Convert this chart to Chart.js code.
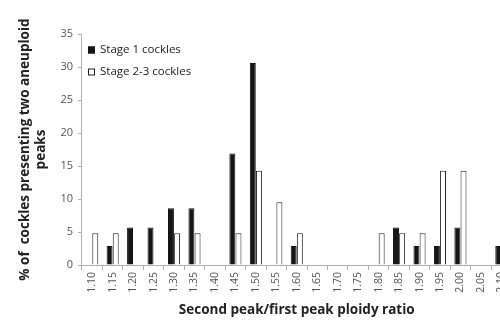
<!DOCTYPE html>
<html>
<head>
<meta charset="utf-8">
<script src="https://cdn.jsdelivr.net/npm/chart.js@4"></script>
<style>
  html, body { margin: 0; padding: 0; background: #fff; overflow: hidden; }
  #wrap { width: 516px; height: 323px; }
</style>
</head>
<body>
<div id="wrap"><canvas id="ratioChart" width="516" height="323"></canvas></div>
<script>
// ploidy ratio categories
const ratios = ["1.10", "1.15", "1.20", "1.25", "1.30", "1.35", "1.40", "1.45", "1.50", "1.55",
  "1.60", "1.65", "1.70", "1.75", "1.80", "1.85", "1.90", "1.95", "2.00", "2.05", "2.10"];

// % of cockles
const stage1 = [null, 2.9, 5.7, 5.7, 8.6, 8.6, null, 16.9, 30.6, null,
  2.9, null, null, null, null, 5.7, 2.9, 2.9, 5.7, null, 2.9];
const stage23 = [4.8, 4.8, null, null, 4.8, 4.8, null, 4.8, 14.3, 9.5,
  4.8, null, null, null, 4.8, 4.8, 4.8, 14.3, 14.3, null, null];

const yTicks = [0, 5, 10, 15, 20, 25, 30, 35];

const FONT = "'Open Sans', 'Liberation Sans', sans-serif";
const axisGrey = "#b0b0b0";

// legend drawn inside the plot, top left, one entry per row
const insideLegend = {
  id: "insideLegend",
  afterDraw: function (chart) {
    const c = chart.ctx;
    const area = chart.chartArea;
    c.save();
    c.font = "11.5px " + FONT;
    c.textBaseline = "middle";
    chart.data.datasets.forEach(function (ds, i) {
      const y = area.top + 16 + i * 22;
      const x = area.left + 6;
      c.fillStyle = ds.backgroundColor;
      c.strokeStyle = ds.borderColor;
      c.lineWidth = 1;
      c.fillRect(x, y - 3.5, 7, 7);
      c.strokeRect(x + 0.5, y - 3, 6, 6);
      c.fillStyle = "#222";
      c.fillText(ds.label, x + 12, y);
    });
    c.restore();
  }
};

window.onload = function () {
  var ctx = document.getElementById("ratioChart").getContext("2d");
  new Chart(ctx, {
    type: "bar",
    data: {
      labels: ratios,
      datasets: [
        {
          label: "Stage 1 cockles",
          data: stage1,
          backgroundColor: "#151515",
          borderColor: "#151515",
          borderWidth: 1,
          categoryPercentage: 0.6,
          barPercentage: 0.97
        },
        {
          label: "Stage 2-3 cockles",
          data: stage23,
          backgroundColor: "#ffffff",
          borderColor: "#222222",
          borderWidth: 1,
          categoryPercentage: 0.6,
          barPercentage: 0.97
        }
      ]
    },
    plugins: [insideLegend],
    options: {
      responsive: false,
      animation: false,
      layout: { padding: { top: 34, left: 13, right: 2, bottom: 1 } },
      plugins: {
        legend: { display: false },
        tooltip: { enabled: false }
      },
      scales: {
        x: {
          offset: true,
          grid: { display: true, drawOnChartArea: false, tickLength: 5, color: axisGrey, offset: true },
          border: { color: axisGrey },
          ticks: {
            color: "#555",
            font: { family: FONT, size: 10.5 },
            maxRotation: 90,
            minRotation: 90,
            autoSkip: false,
            padding: 2
          },
          title: {
            display: true,
            text: "Second peak/first peak ploidy ratio",
            color: "#222",
            font: { family: FONT, size: 13.5, weight: "bold" },
            padding: { top: 7 }
          }
        },
        y: {
          min: 0,
          max: 35,
          afterBuildTicks: function (scale) {
            scale.ticks = yTicks.map(function (v) { return { value: v }; });
          },
          grid: { display: true, drawOnChartArea: false, tickLength: 4, color: axisGrey },
          border: { color: axisGrey },
          ticks: {
            color: "#555",
            font: { family: FONT, size: 11 },
            padding: 5
          },
          title: {
            display: true,
            text: ["% of  cockles presenting two aneuploid", "peaks"],
            color: "#222",
            font: { family: FONT, size: 13.5, weight: "bold" },
            padding: { bottom: 6 }
          }
        }
      }
    }
  });
};
</script>
</body>
</html>
